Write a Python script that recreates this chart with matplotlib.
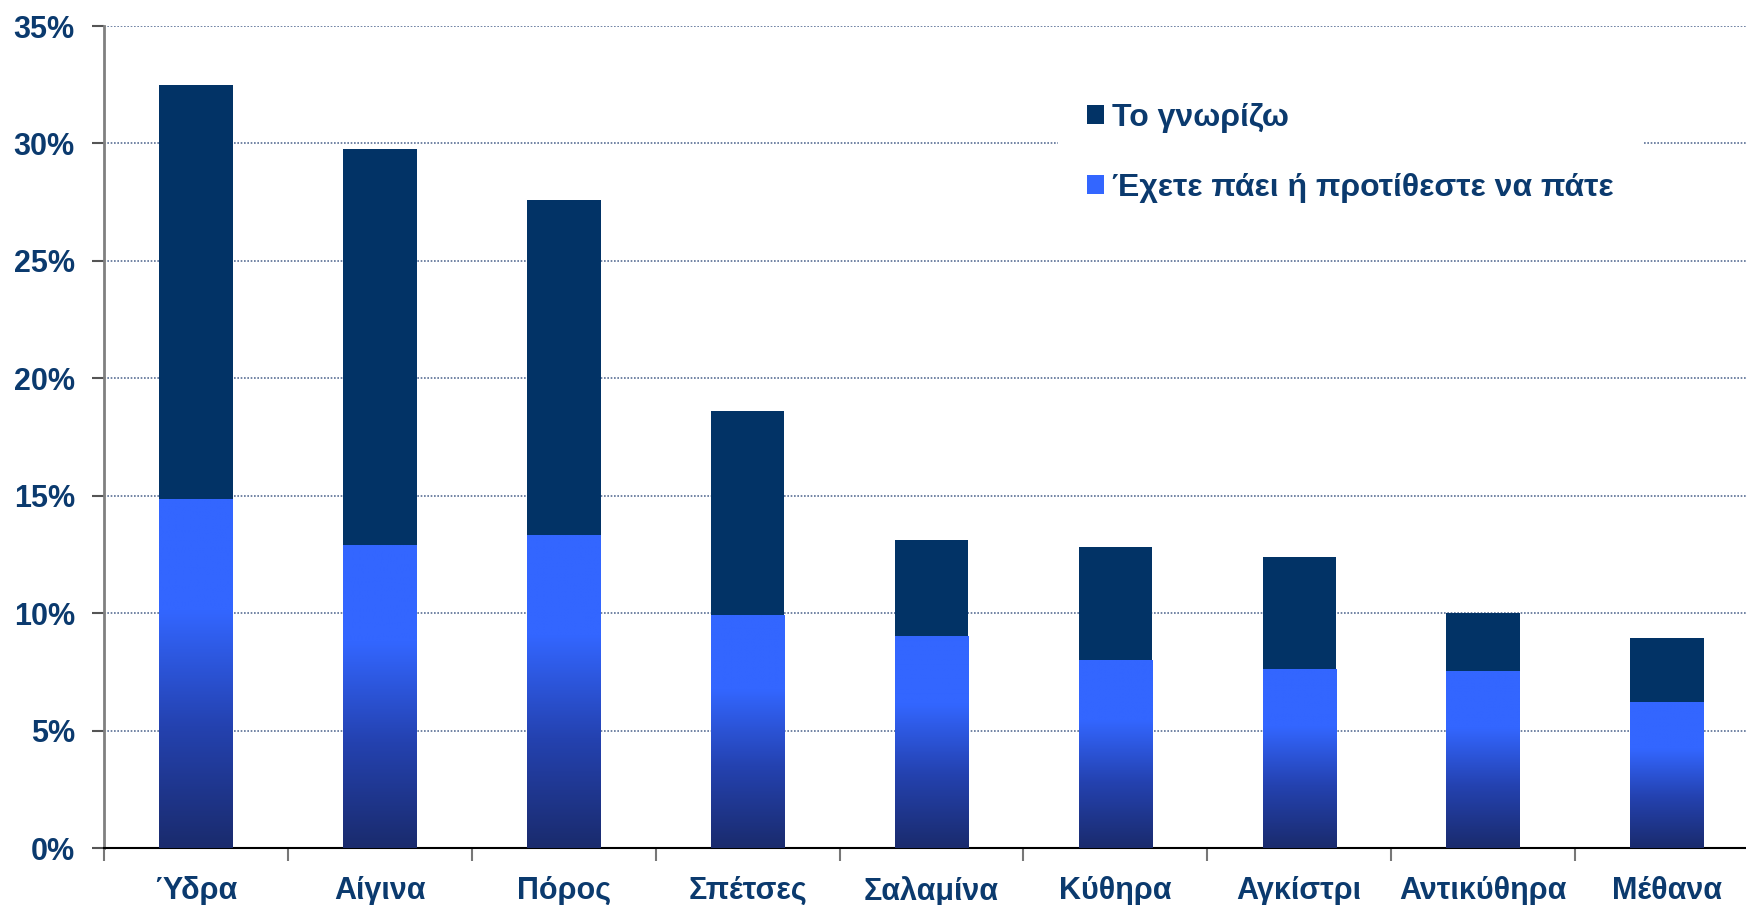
import numpy as np
import matplotlib
matplotlib.use("Agg")
import matplotlib.pyplot as plt
from matplotlib.colors import LinearSegmentedColormap
from matplotlib.patches import Patch

islands = ["Ύδρα", "Αίγινα", "Πόρος", "Σπέτσες", "Σαλαμίνα", "Κύθηρα", "Αγκίστρι", "Αντικύθηρα", "Μέθανα"]
know = [32.5, 29.75, 27.6, 18.6, 13.1, 12.8, 12.4, 10.0, 8.95]
visited = [14.85, 12.9, 13.3, 9.9, 9.0, 8.0, 7.6, 7.5, 6.2]
yticks = [0, 5, 10, 15, 20, 25, 30, 35]

navy = "#023366"
text_col = "#0B3A6E"
plt.rcParams["font.family"] = ["Liberation Sans", "DejaVu Sans"]

fig = plt.figure(figsize=(17.46, 9.05), dpi=100)
# axes runs past the right edge, as in the original
ax = fig.add_axes([104 / 1746, 1 - 848 / 905, 1655 / 1746, (848 - 26) / 905])

x = np.arange(len(islands))
w = 0.4
ax.bar(x, know, width=w, color=navy, zorder=2)

cmap = LinearSegmentedColormap.from_list(
    "blu", [(0, "#1A2B6D"), (0.35, "#2442B0"), (0.68, "#3366FF"), (1, "#3366FF")])
grad = np.linspace(0, 1, 256).reshape(-1, 1)
for xi, v in zip(x, visited):
    ax.imshow(grad, cmap=cmap, origin="lower", aspect="auto",
              extent=[xi - w / 2, xi + w / 2, 0, v], zorder=3, interpolation="bilinear")

ax.set_xlim(-0.5, len(islands) - 0.5)
ax.set_ylim(0, 35)

ax.set_yticks(yticks)
ax.set_yticklabels([f"{t}%" for t in yticks], fontsize=22, fontweight="bold", color=text_col)
ax.set_xticks(x)
ax.set_xticklabels(islands, fontsize=22, fontweight="bold", color=text_col)
ax.tick_params(axis="x", length=0, pad=20)
ax.set_xticks(np.arange(len(islands)) - 0.5, minor=True)
ax.tick_params(axis="x", which="minor", length=9, width=1.5, color="#777777")
ax.tick_params(axis="y", length=9, width=1.5, color="#555555", pad=12)

ax.grid(axis="y", linestyle=(0, (1, 1)), color="#5A6F95", linewidth=1.2, zorder=0)
ax.set_axisbelow(True)

for s in ["top", "right"]:
    ax.spines[s].set_visible(False)
ax.spines["left"].set_color("#808080")
ax.spines["left"].set_linewidth(2)
ax.spines["bottom"].set_color("black")
ax.spines["bottom"].set_linewidth(1.5)

handles = [Patch(facecolor=navy), Patch(facecolor="#3366FF")]
leg = ax.legend(handles, ["Το γνωρίζω", "Έχετε πάει ή προτίθεστε να πάτε"],
                loc="upper left", bbox_to_anchor=(1042 / 1746, 1 - 58 / 905),
                bbox_transform=fig.transFigure,
                frameon=True, fontsize=23, handlelength=0.55, handleheight=0.55,
                handletextpad=0.25, labelspacing=1.25, borderpad=0.9)
leg.get_frame().set_edgecolor("none")
leg.get_frame().set_facecolor("white")
leg.get_frame().set_alpha(1)
leg.get_frame().set_boxstyle("square", pad=0)
for t in leg.get_texts():
    t.set_color(text_col)
    t.set_fontweight("bold")

fig.savefig("out.png", dpi=100)
